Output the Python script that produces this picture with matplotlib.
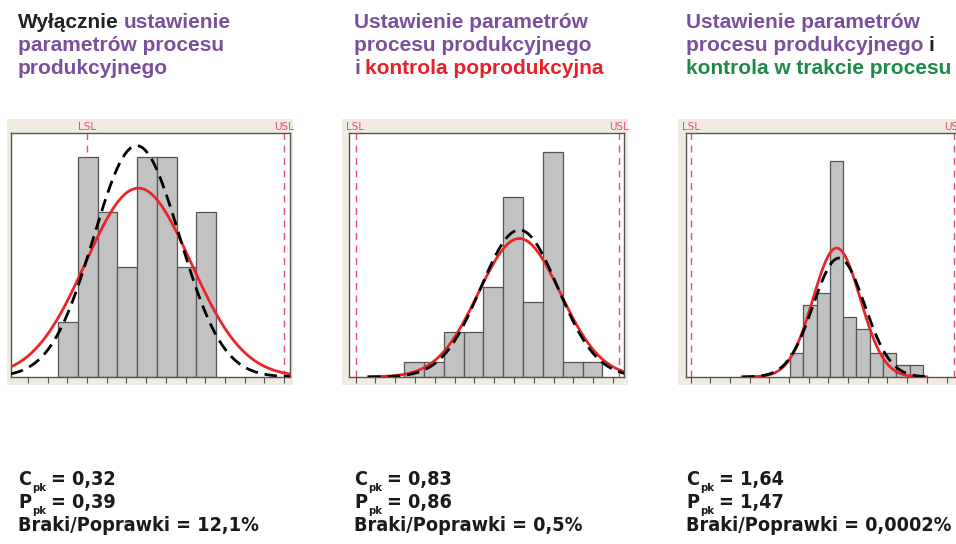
import numpy as np
import matplotlib
matplotlib.use('Agg')
import matplotlib.pyplot as plt
from matplotlib.patches import Rectangle
from matplotlib.transforms import IdentityTransform

# Histogram data for the three processes (x in bin units, first bin edge = 0)
counts_1 = [1, 4, 3, 2, 4, 4, 2, 3]
counts_2 = [1, 1, 3, 3, 6, 12, 5, 15, 1, 1]
counts_3 = [2, 6, 7, 18, 5, 4, 2, 2, 1, 1]

# spec limits
lsl = [1.46, -2.46, -7.47]
usl = [11.46, 10.84, 12.33]

# fitted normal curves: overall (red) and within (black dashed)
red_mean = [4.06, 5.81, 3.51]
red_sd = [2.67, 2.07, 1.78]
black_mean = [3.98, 5.81, 3.68]
black_sd = [2.18, 1.95, 1.93]
curve_from = [-2.40, -1.82, -3.6]
curve_to = [11.76, 11.11, 10.3]

xlims = [(-2.40, 11.76), (-2.79, 11.11), (-7.82, 13.16)]
ylims = [4.44, 16.3, 20.36]
tick_step = [1.0, 1.0, 1.48]

cpk = ['0,32', '0,83', '1,64']
ppk = ['0,39', '0,86', '1,47']
braki = ['12,1%', '0,5%', '0,0002%']

PURPLE = '#7a4f9e'
BLACK = '#222222'
RED = '#e8202a'
GREEN = '#1e8a48'

titles = [
    [[('Wyłącznie', BLACK), ('ustawienie', PURPLE)],
     [('parametrów procesu', PURPLE)],
     [('produkcyjnego', PURPLE)]],
    [[('Ustawienie parametrów', PURPLE)],
     [('procesu produkcyjnego', PURPLE)],
     [('i', PURPLE), ('kontrola poprodukcyjna', RED)]],
    [[('Ustawienie parametrów', PURPLE)],
     [('procesu produkcyjnego', PURPLE), ('i', BLACK)],
     [('kontrola w trakcie procesu', GREEN)]],
]

W, H = 956, 544
fig = plt.figure(figsize=(W / 100, H / 100), dpi=100)
fig.patch.set_facecolor('white')
renderer = fig.canvas.get_renderer()

# panel boxes in pixels (left, right) and frame
box_x = [(11, 290), (349, 624.3), (686, 965)]
frame_x = [(7.3, 293.3), (341.7, 628.3), (678.3, 970)]
box_top, box_bot = 133, 377
frame_top, frame_bot = 119, 385
text_x = [18, 354, 686]

all_counts = [counts_1, counts_2, counts_3]

for i in range(3):
    # beige frame behind the plot
    fx0, fx1 = frame_x[i]
    fig.patches.append(Rectangle((fx0 / W, 1 - frame_bot / H), (fx1 - fx0) / W,
                                 (frame_bot - frame_top) / H, transform=fig.transFigure,
                                 facecolor='#f1ece2', edgecolor='none', zorder=-5))

    x0, x1 = box_x[i]
    ax = fig.add_axes([x0 / W, 1 - box_bot / H, (x1 - x0) / W, (box_bot - box_top) / H])
    ax.set_zorder(2)
    ax.set_facecolor('white')

    c = all_counts[i]
    edges = np.arange(len(c) + 1)
    ax.bar(edges[:-1], c, width=1, align='edge', color='#c2c2c2',
           edgecolor='#555555', linewidth=0.9, zorder=2)

    xs = np.linspace(curve_from[i], curve_to[i], 400)
    n = sum(c)
    red = n / (red_sd[i] * np.sqrt(2 * np.pi)) * np.exp(-0.5 * ((xs - red_mean[i]) / red_sd[i]) ** 2)
    blk = n / (black_sd[i] * np.sqrt(2 * np.pi)) * np.exp(-0.5 * ((xs - black_mean[i]) / black_sd[i]) ** 2)
    ax.plot(xs, red, color='#e8262a', lw=2, zorder=3)
    ax.plot(xs, blk, color='black', lw=2, dashes=(4.5, 2.5), zorder=4)

    # spec limit lines
    for v, lab in [(lsl[i], 'LSL'), (usl[i], 'USL')]:
        ax.axvline(v, color='#e4506a', lw=1, dashes=(5, 4), zorder=1)
        ax.text(v, 1.005, lab, transform=ax.get_xaxis_transform(), ha='center',
                va='bottom', color='#e4506a', fontsize=7.5, family='DejaVu Sans',
                clip_on=False)

    ticks = lsl[i] + tick_step[i] * np.arange(-10, 20)
    ax.set_xticks(ticks)
    ax.set_xlim(xlims[i])
    ax.set_ylim(0, ylims[i])
    ax.set_xticklabels([])
    ax.set_yticks([])
    ax.tick_params(axis='x', direction='out', length=4, width=0.8, color='#555555')
    for s in ax.spines.values():
        s.set_color('#555555')
        s.set_linewidth(1)


def put(x, y, s, **kw):
    t = fig.text(x, H - y, s, transform=IdentityTransform(), va='baseline', **kw)
    return t.get_window_extent(renderer).x1


# titles
title_font = dict(family=['Liberation Sans', 'DejaVu Sans'], fontsize=15, fontweight='bold')
for i in range(3):
    for j, line in enumerate(titles[i]):
        x = text_x[i]
        for word, col in line:
            x = put(x, 28 + 23 * j, word, color=col, **title_font) + 5

# capability numbers
big = dict(family='DejaVu Sans', stretch='condensed', fontsize=14.2,
           fontweight='bold', color='#1a1a1a')
small = dict(family='DejaVu Sans', stretch='condensed', fontsize=8,
             fontweight='bold', color='#1a1a1a')
for i in range(3):
    x = text_x[i]
    xe = put(x, 485, 'C', **big)
    xe = put(xe + 1, 491, 'pk', **small)
    put(xe + 5, 485, '= ' + cpk[i], **big)
    xe = put(x, 508, 'P', **big)
    xe = put(xe + 1, 514, 'pk', **small)
    put(xe + 5, 508, '= ' + ppk[i], **big)
    put(x, 531, 'Braki/Poprawki = ' + braki[i], **big)

fig.savefig('out.png', dpi=100)
